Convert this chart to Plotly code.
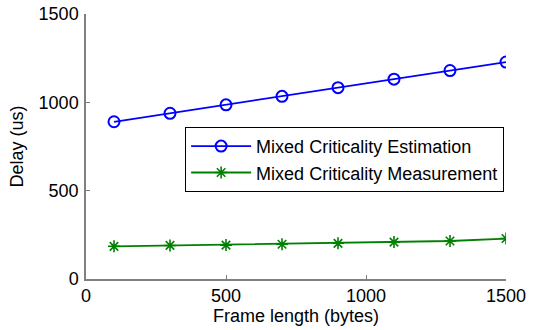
import plotly.graph_objects as go

frame_length = [100, 300, 500, 700, 900, 1100, 1300, 1500]
estimation = [890, 938, 986, 1034, 1083, 1131, 1180, 1228]
measurement = [185, 190, 192, 197, 202, 209, 215, 229]
x_ticks = [0, 500, 1000, 1500]
y_ticks = [0, 500, 1000, 1500]

FONT = "Liberation Sans, Arial, sans-serif"

fig = go.Figure()
fig.add_trace(go.Scatter(
    x=frame_length, y=estimation, mode="lines+markers",
    name="Mixed Criticality Estimation",
    line=dict(color="#0000FF", width=1.8),
    marker=dict(symbol="circle-open", size=11, color="#0000FF", line=dict(width=2, color="#0000FF")),
))
fig.add_trace(go.Scatter(
    x=frame_length, y=measurement, mode="lines+markers",
    name="Mixed Criticality Measurement",
    line=dict(color="#008000", width=1.8),
    marker=dict(symbol="asterisk-open", size=10, color="#008000", line=dict(width=1.6, color="#008000")),
))

axis_common = dict(
    showgrid=False, zeroline=False, showline=True, linecolor="#808080", linewidth=1.5,
    ticks="inside", ticklen=4, tickcolor="#808080", tickwidth=1,
    tickfont=dict(family=FONT, size=18, color="black"),
    mirror=False, automargin=False, ticklabeloverflow="allow",
)

fig.update_layout(
    width=534, height=330,
    margin=dict(l=86, r=28, t=14, b=51, autoexpand=False),
    paper_bgcolor="white", plot_bgcolor="white",
    font=dict(family=FONT, color="black"),
    xaxis=dict(range=[0, 1500], tickvals=x_ticks, ticktext=[str(v) for v in x_ticks],
               title=dict(text="Frame length (bytes)", font=dict(family=FONT, size=18), standoff=0),
               ticklabelstandoff=0,
               **axis_common),
    yaxis=dict(range=[0, 1500], tickvals=y_ticks, ticktext=[str(v) for v in y_ticks],
               title=dict(text="Delay (us)", font=dict(family=FONT, size=18), standoff=10),
               ticklabelstandoff=2,
               **axis_common),
    legend=dict(
        x=0.236, y=0.574, xanchor="left", yanchor="top",
        bgcolor="white", bordercolor="black", borderwidth=1,
        font=dict(family=FONT, size=18, color="black"),
        itemwidth=60, tracegroupgap=0,
    ),
    showlegend=True,
)

# Remove the browser's default 8px body margin so the figure fills the window.
fig.write_html("out.html", config={"displayModeBar": False},
               post_script="document.body.style.margin='0';")
